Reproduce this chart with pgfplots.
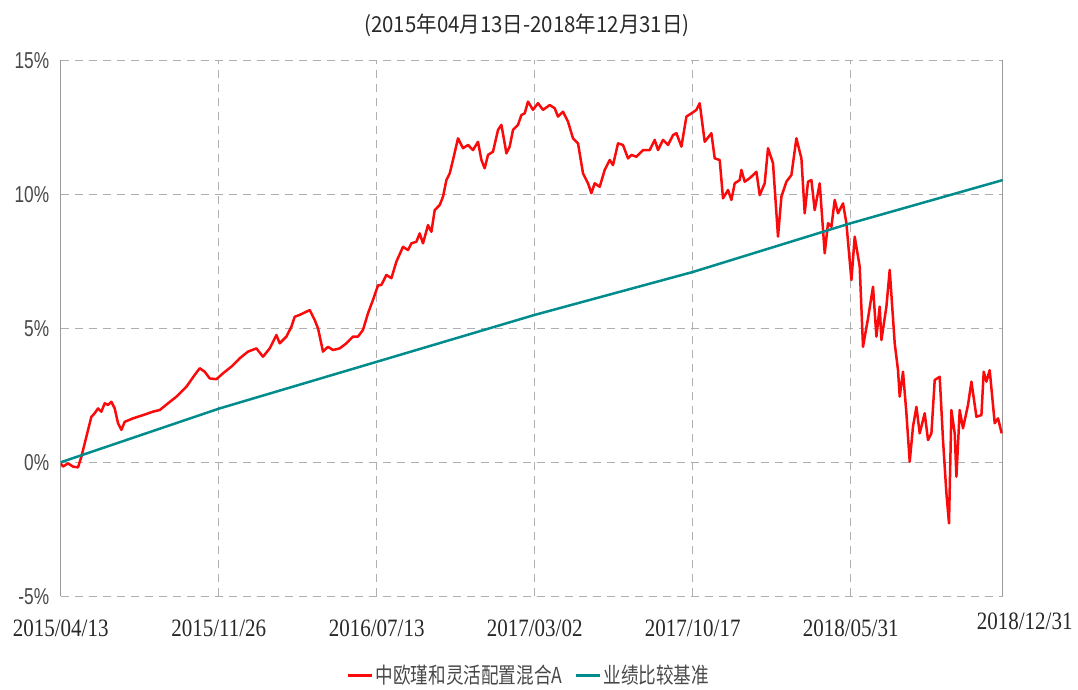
\documentclass[border=0pt]{standalone}
\usepackage{pgfplots}
\pgfplotsset{compat=1.18}
\usepackage{fontspec}
\setmainfont{Liberation Sans}
\newfontfamily\cjktitle[FakeStretch=0.93]{Noto Sans CJK SC}
\newfontfamily\cjkleg[FakeStretch=0.8]{Noto Sans CJK SC}
\newfontfamily\ylab[FakeStretch=0.75]{Liberation Sans}
\newfontfamily\xlab[FakeStretch=0.84]{Liberation Serif}
\definecolor{fundred}{RGB}{250,10,10}
\definecolor{benchteal}{RGB}{0,140,140}
\definecolor{gridgray}{RGB}{175,175,175}
\definecolor{txt}{RGB}{40,40,40}

\pgfplotstableread{
x y
0 -0.04
2.3 -0.16
7.3 -0.04
12.3 -0.16
17.3 -0.19
20.7 0.21
25.7 0.96
30.7 1.70
34 1.83
37.3 2.01
40.7 1.89
44 2.20
47.3 2.14
50.7 2.26
54 2.01
57.3 1.46
60.7 1.21
64 1.51
72.3 1.64
82.3 1.76
92.3 1.89
99 1.95
107.3 2.20
115.7 2.45
125.7 2.82
134 3.26
139 3.51
144 3.38
149 3.13
155.7 3.10
162.3 3.32
170.7 3.57
179 3.88
187.3 4.13
195.7 4.25
202.3 3.94
209 4.25
215.7 4.75
219 4.44
225.7 4.69
230.7 5.06
234 5.43
239 5.50
245.7 5.62
249 5.68
254 5.31
257.3 5.00
262.3 4.13
267.3 4.31
272.3 4.19
279 4.25
285.7 4.44
292.3 4.69
297.3 4.69
302.3 4.94
307.3 5.56
312.3 6.06
317.3 6.60
320.7 6.62
325.7 6.99
330.7 6.87
335.7 7.49
342.3 8.04
347.3 7.92
350.7 8.17
355.7 8.23
359 8.54
362.3 8.17
367.3 8.85
370.7 8.60
374 9.41
379 9.60
382.3 9.91
385.7 10.53
389 10.78
392.3 11.28
397.3 12.09
402.3 11.72
407.3 11.84
412.3 11.65
417.3 11.96
420.7 11.28
424 10.97
427.3 11.47
432.3 11.59
437.3 12.40
440.7 12.59
445.7 11.53
449 11.78
452.3 12.40
457.3 12.59
460.7 12.96
464 13.02
467.3 13.46
472.3 13.15
477.3 13.40
482.3 13.15
489 13.33
494 13.21
497.3 12.90
502.3 13.08
507.3 12.71
512.3 12.09
517.3 11.90
522.3 10.78
527.3 10.41
530.7 10.04
534 10.41
539 10.28
544 10.91
549 11.28
552.3 11.09
557.3 11.90
562.3 11.84
567.3 11.34
570.7 11.47
575.7 11.40
582.3 11.65
589 11.65
594 12.03
597.3 11.65
602.3 12.03
607.3 11.84
612.3 12.21
615.7 12.28
620.7 11.78
625.7 12.90
630.7 13.02
635.7 13.15
639 13.40
644 11.96
650.7 12.28
654 11.34
659 11.28
662.3 9.85
667.3 10.16
670.7 9.79
674 10.41
679 10.53
680.7 10.91
684 10.47
689 10.60
695.7 10.84
699 9.97
704 10.41
707.3 11.72
712.3 11.16
717.3 8.42
720.7 9.91
725.7 10.47
730.7 10.72
735.7 12.09
740.7 11.34
744 9.29
747.3 10.47
750.7 10.53
754 9.41
759 10.41
764 7.80
767.3 8.92
770.7 8.79
774 9.79
777.3 9.29
782.3 9.66
785.7 8.92
790.7 6.80
794 8.42
799 7.30
802.3 4.31
807.3 5.37
812.3 6.55
815.7 4.69
819 5.81
820.7 4.56
825.7 5.81
829 7.18
834 4.44
837.3 3.44
839 2.45
842.3 3.38
845.7 1.83
849 0.02
852.3 1.33
855.7 2.07
859 1.08
864 1.83
867.3 0.83
870.7 1.08
874 3.07
879 3.19
882.3 0.83
885.7 -1.16
888.3 -2.28
890.7 1.95
894 1.08
895.7 -0.54
899 1.95
902.3 1.27
907.3 2.14
910.7 3.01
915.7 1.70
920.7 1.76
923 3.38
925.7 3.01
929 3.44
934 1.46
937.3 1.64
941 1.08
}\fund

\pgfplotstableread{
x y
0 0
158 2.0
316 3.75
474 5.5
632 7.1
790 8.92
942 10.53
}\bench

\begin{document}
\begin{tikzpicture}
\useasboundingbox (-60.7pt,-93.7pt) rectangle (1017.3pt,596.3pt);
\begin{axis}[
  at={(0pt,0pt)}, anchor=south west,
  scale only axis, width=942pt, height=536pt,
  xmin=0, xmax=942, ymin=-5, ymax=15,
  xtick={0,158,316,474,632,790},
  xticklabels={2015/04/13,2015/11/26,2016/07/13,2017/03/02,2017/10/17,2018/05/31},
  extra x ticks={942},
  extra x tick labels={2018/12/31},
  extra x tick style={grid=none, xticklabel style={xshift=22pt, yshift=7pt}},
  ytick={-5,0,5,10,15},
  yticklabels={{-5\%},{0\%},{5\%},{10\%},{15\%}},
  major tick length=0pt,
  xticklabel style={font=\xlab\fontsize{25}{28}\selectfont, text=txt, yshift=-20pt},
  yticklabel style={font=\ylab\fontsize{23}{26}\selectfont, text=txt!85, xshift=-8pt},
  grid=major,
  major grid style={gridgray, line width=1.2pt, dash pattern=on 8pt off 6pt},
  separate axis lines,
  x axis line style={draw=none},
  y axis line style={draw=black!40, line width=1.2pt},
  title={\cjktitle\fontsize{22}{26}\selectfont (2015年04月13日-2018年12月31日)},
  title style={at={(0.495,1.054)}, anchor=center, text=txt},
  legend columns=2,
  legend style={draw=none, fill=none, at={(0.497,-0.147)}, anchor=center,
    font=\cjkleg\fontsize{22}{26}\selectfont, text=txt!85,
    /tikz/every even column/.append style={column sep=10pt}},
  legend image code/.code={\draw[#1, line width=3pt] (0pt,0pt) -- (24pt,0pt);},
]
\addplot[fundred, line width=2.5pt, line join=round] table[x=x,y=y] {\fund};
\addlegendentry{中欧瑾和灵活配置混合A}
\addplot[benchteal, line width=2.5pt] table[x=x,y=y] {\bench};
\addlegendentry{业绩比较基准}
\end{axis}
\end{tikzpicture}
\end{document}
